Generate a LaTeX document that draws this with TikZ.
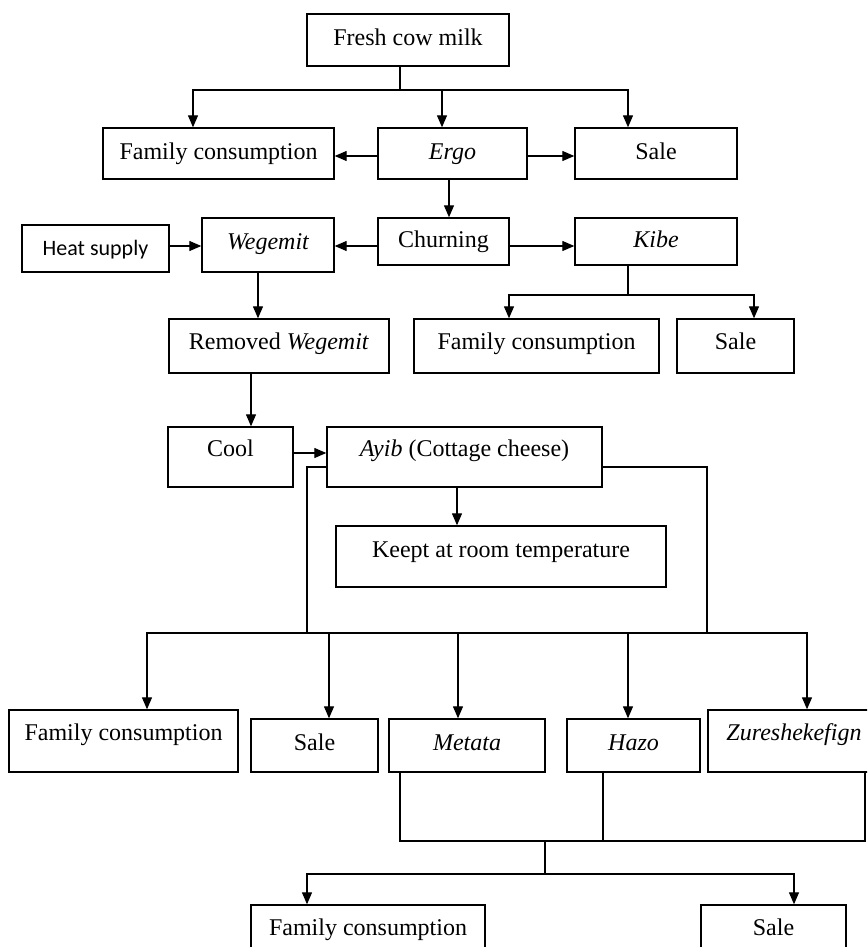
\documentclass[tikz,border=0pt]{standalone}
\usepackage{fontspec}
\setmainfont{Liberation Serif}
\newfontfamily\calibri{Carlito}
\usetikzlibrary{arrows.meta}
\tikzset{
  box/.style={draw, line width=1.4pt, inner sep=0pt, font=\fontsize{24}{28}\selectfont, text depth=10pt, text height=21pt},
  ta/.style={text height=19pt},
  tb/.style={text height=17pt},
  tc/.style={text height=9pt},
  td/.style={text height=11pt},
  conn/.style={line width=1.3pt},
  arr/.style={conn, -{Triangle[length=12pt,width=10pt]}}
}
\begin{document}
\begin{tikzpicture}[x=1pt,y=-1pt]
\clip (0,0) rectangle (867,947);
\fill[white] (0,0) rectangle (867,947);
% nodes
\node[box, minimum width=202pt, minimum height=52pt] (milk) at (408,40) {Fresh cow milk};
\node[box, minimum width=231pt, minimum height=51pt] (fc1) at (218.5,153.5) {Family consumption};
\node[box, minimum width=149pt, minimum height=51pt] (ergo) at (452.5,153.5) {\itshape Ergo};
\node[box, minimum width=162pt, minimum height=51pt] (sale1) at (656,153.5) {Sale};
\node[box, minimum width=147pt, minimum height=47pt, font=\calibri\fontsize{22}{26}\selectfont, text height=23pt] (heat) at (95.5,248.5) {Heat supply};
\node[box, ta, minimum width=132pt, minimum height=54pt] (weg) at (268,245) {\itshape Wegemit};
\node[box, minimum width=131pt, minimum height=47pt] (churn) at (443.5,241.5) {Churning};
\node[box, minimum width=162pt, minimum height=47pt] (kibe) at (656,241.5) {\itshape Kibe};
\node[box, tb, minimum width=220pt, minimum height=54pt] (remw) at (279,346) {Removed \textit{Wegemit}};
\node[box, tb, minimum width=245pt, minimum height=54pt] (fc2) at (536.5,346) {Family consumption};
\node[box, tb, minimum width=117pt, minimum height=54pt] (sale2) at (735.5,346) {Sale};
\node[box, tc, minimum width=125pt, minimum height=60pt] (cool) at (230.5,457) {Cool};
\node[box, tc, minimum width=275pt, minimum height=60pt] (ayib) at (464.5,457) {\textit{Ayib} (Cottage cheese)};
\node[box, td, minimum width=330pt, minimum height=61pt] (keep) at (501,556.5) {Keept at room temperature};
\node[box, tc, minimum width=229pt, minimum height=62pt] (fc3) at (123.5,741) {Family consumption};
\node[box, ta, minimum width=127pt, minimum height=53pt] (sale3) at (314.5,745.5) {Sale};
\node[box, ta, minimum width=156pt, minimum height=53pt] (metata) at (467,745.5) {\itshape Metata};
\node[box, ta, minimum width=133pt, minimum height=53pt] (hazo) at (633.5,745.5) {\itshape Hazo};
\node[box, tc, minimum width=172pt, minimum height=62pt] (zure) at (794,741) {\itshape Zureshekefign};
\node[box, minimum width=234pt, minimum height=50pt] (fc4) at (368,930) {Family consumption};
\node[box, minimum width=145pt, minimum height=50pt] (sale4) at (773.5,930) {Sale};
% junctions
\coordinate (j1) at (400,90);
\coordinate (j2) at (628,295);
\coordinate (j3) at (307,633);
\coordinate (j4) at (707,633);
\coordinate (j5) at (545,841);
\coordinate (j6) at (545,874);
% connectors
\draw[conn] (milk.south -| j1) -- (j1);
\draw[arr] (j1) -| ([xshift=-25.5pt]fc1.north);
\draw[arr] (j1) -| ([xshift=-10.5pt]ergo.north);
\draw[arr] (j1) -| ([xshift=-28pt]sale1.north);
\draw[arr] ([yshift=-2.5pt]ergo.west) -- ([yshift=-2.5pt]fc1.east);
\draw[arr] ([yshift=-2.5pt]ergo.east) -- ([yshift=-2.5pt]sale1.west);
\draw[arr] ([xshift=-3.5pt]ergo.south) -- ([xshift=-3.5pt]ergo.south |- churn.north);
\draw[arr] ([yshift=-4.5pt]churn.west) -- ([yshift=-4.5pt]churn.west -| weg.east);
\draw[arr] ([yshift=-4.5pt]churn.east) -- ([yshift=-4.5pt]churn.east -| kibe.west);
\draw[arr] ([yshift=2.5pt]heat.east) -- ([yshift=2.5pt]heat.east -| weg.west);
\draw[conn] ([xshift=-28pt]kibe.south) -- (j2);
\draw[arr] (j2) -| ([xshift=-27.5pt]fc2.north);
\draw[arr] (j2) -| ([xshift=18.5pt]sale2.north);
\draw[arr] ([xshift=-10pt]weg.south) -- ([xshift=-10pt]weg.south |- remw.north);
\draw[arr] ([xshift=-28pt]remw.south) -- ([xshift=-28pt]remw.south |- cool.north);
\draw[arr] ([yshift=4pt]cool.east) -- ([yshift=4pt]cool.east -| ayib.west);
\draw[arr] ([xshift=-7.5pt]ayib.south) -- ([xshift=-7.5pt]ayib.south |- keep.north);
\draw[conn] ([yshift=-10pt]ayib.west) -| (j3);
\draw[conn] ([yshift=-10pt]ayib.east) -| (j4);
\draw[conn] (j3) -- (j4);
\draw[arr] (j3) -| ([xshift=23.5pt]fc3.north);
\draw[arr] (j3) -| ([xshift=14.5pt]sale3.north);
\draw[arr] (j3) -| ([xshift=-9pt]metata.north);
\draw[arr] (j4) -| ([xshift=-5.5pt]hazo.north);
\draw[arr] (j4) -| ([xshift=13pt]zure.north);
\draw[conn] ([xshift=-67pt]metata.south) |- (j5) -| ([xshift=71pt]zure.south);
\draw[conn] ([xshift=-30.5pt]hazo.south) -- ([xshift=-30.5pt]hazo.south |- j5);
\draw[conn] (j5) -- (j6);
\draw[arr] (j6) -| ([xshift=-61pt]fc4.north);
\draw[arr] (j6) -| ([xshift=20.5pt]sale4.north);
\end{tikzpicture}
\end{document}
